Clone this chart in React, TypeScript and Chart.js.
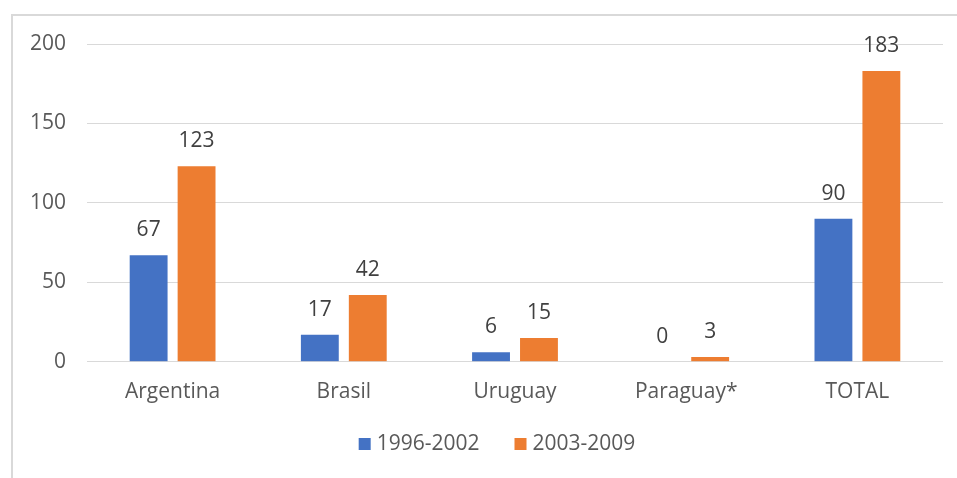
import React, { useEffect, useRef } from "react";
import { Chart, registerables } from "chart.js";

Chart.register(...registerables);

const categories = ["Argentina", "Brasil", "Uruguay", "Paraguay*", "TOTAL"];
const series1996 = [67, 17, 6, 0, 90];
const series2003 = [123, 42, 15, 3, 183];
const yTicks = [0, 50, 100, 150, 200];

const FONT = "'Open Sans', 'Liberation Sans', sans-serif";
const FS = 21;

const valueLabels = {
  id: "valueLabels",
  afterDatasetsDraw(chart: any) {
    const ctx = chart.ctx;
    ctx.save();
    ctx.font = `${FS}px ${FONT}`;
    ctx.fillStyle = "#404040";
    ctx.textAlign = "center";
    ctx.textBaseline = "middle";
    chart.data.datasets.forEach((ds: any, i: number) => {
      const meta = chart.getDatasetMeta(i);
      meta.data.forEach((bar: any, j: number) => {
        ctx.fillText(String(ds.data[j]), bar.x, bar.y - 25);
      });
    });
    ctx.restore();
  },
};

const customLegend = {
  id: "customLegend",
  afterDraw(chart: any) {
    const ctx = chart.ctx;
    ctx.save();
    ctx.font = `${FS}px ${FONT}`;
    ctx.textBaseline = "middle";
    ctx.textAlign = "left";
    const box = 12, gapBox = 6, gapItem = 35;
    const items = chart.data.datasets.map((ds: any) => ({
      label: ds.label,
      color: ds.backgroundColor,
      w: box + gapBox + ctx.measureText(ds.label).width,
    }));
    const total = items.reduce((s: number, it: any) => s + it.w, 0) + gapItem * (items.length - 1);
    let x = 497 - total / 2;
    const cy = 444;
    items.forEach((it: any) => {
      ctx.fillStyle = it.color;
      ctx.fillRect(x, cy - box / 2, box, box);
      ctx.fillStyle = "#595959";
      ctx.fillText(it.label, x + box + gapBox, cy);
      x += it.w + gapItem;
    });
    ctx.restore();
  },
};

export default function App() {
  const ref = useRef<HTMLCanvasElement>(null);
  useEffect(() => {
    document.body.style.margin = "0";
    const chart = new Chart(ref.current!, {
      type: "bar",
      data: {
        labels: categories,
        datasets: [
          { label: "1996-2002", data: series1996, backgroundColor: "#4472c4" },
          { label: "2003-2009", data: series2003, backgroundColor: "#ed7d31" },
        ],
      },
      options: {
        animation: false,
        responsive: false,
        maintainAspectRatio: false,
        datasets: { bar: { categoryPercentage: 0.56, barPercentage: 0.79 } },
        layout: { padding: { left: 27, right: 14, top: 44, bottom: 55 } },
        plugins: {
          tooltip: { enabled: false },
          legend: { display: false },
        },
        scales: {
          x: {
            grid: { display: false, drawTicks: false },
            border: { display: false },
            ticks: { font: { family: FONT, size: FS }, color: "#595959", padding: 18 },
          },
          y: {
            min: 0,
            max: 200,
            afterFit(scale: any) { scale.width = 60; },
            afterBuildTicks(scale: any) { scale.ticks = yTicks.map((v) => ({ value: v })); },
            grid: { color: "#d9d9d9", lineWidth: 1, drawTicks: false },
            border: { display: false },
            ticks: { font: { family: FONT, size: FS }, color: "#595959", padding: 21 },
          },
        },
      },
      plugins: [valueLabels, customLegend],
    });
    return () => chart.destroy();
  }, []);
  return (
    <div style={{ position: "relative", width: 957, height: 478, background: "#fff", overflow: "hidden" }}>
      <div style={{ position: "absolute", left: 11, top: 14, width: 1000, height: 500, border: "2px solid #d9d9d9", boxSizing: "border-box" }} />
      <canvas ref={ref} width={957} height={478} style={{ position: "absolute", left: 0, top: 0 }} />
    </div>
  );
}
